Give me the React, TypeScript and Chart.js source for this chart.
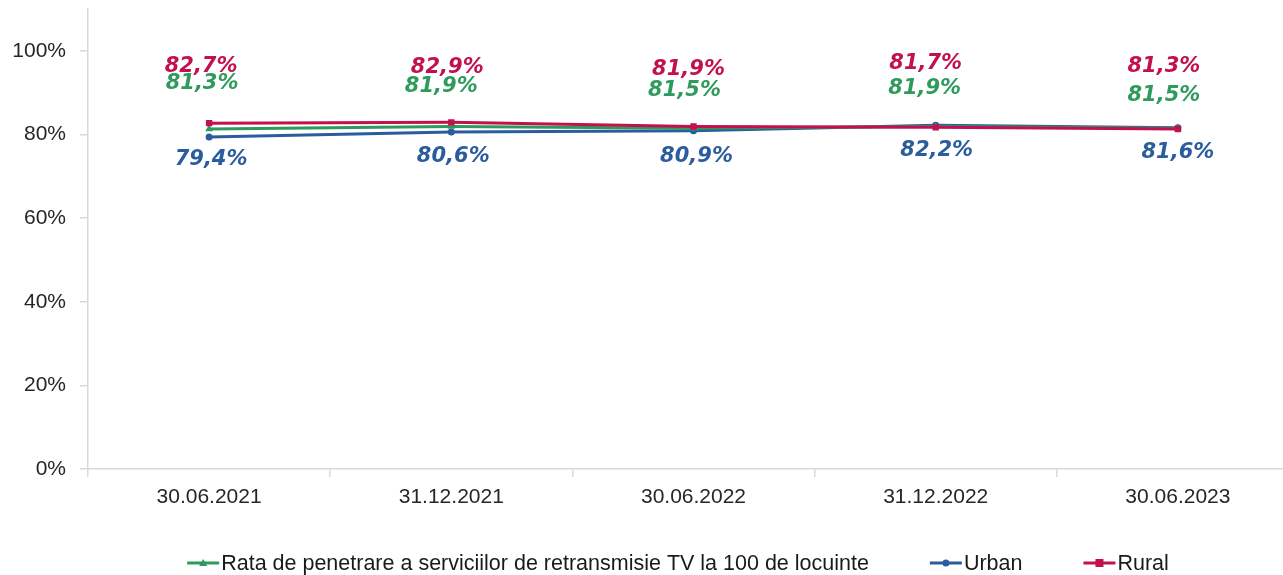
import React, { useEffect, useRef } from 'react';
import { Chart, registerables } from 'chart.js';

Chart.register(...registerables);

// ---------- data ----------
const categories = ['30.06.2021', '31.12.2021', '30.06.2022', '31.12.2022', '30.06.2023'];
const rataValues = [81.3, 81.9, 81.5, 81.9, 81.5];
const urbanValues = [79.4, 80.6, 80.9, 82.2, 81.6];
const ruralValues = [82.7, 82.9, 81.9, 81.7, 81.3];
const yTickValues = [0, 20, 40, 60, 80, 100];
const seriesNames = [
  'Rata de penetrare a serviciilor de retransmisie TV la 100 de locuinte',
  'Urban',
  'Rural',
];

// ---------- styles ----------
const GREEN = '#2E9B5C';
const BLUE = '#2B5C9E';
const RED = '#C3104E';
const AXIS_GRAY = '#D9D9D9';
const TEXT = '#262626';
const TICK_FONT = { family: '"Liberation Sans", Arial, sans-serif', size: 21 };
const LABEL_FONT = 'italic bold 21px "DejaVu Sans", Verdana, sans-serif';
const LEGEND_FONT = '21.5px "Liberation Sans", Arial, sans-serif';

// label centre offsets (px) relative to each point
const labelOffsets: number[][][] = [
  [[-7, -45], [-10, -40], [-9, -38], [-11, -38], [-14, -33]],
  [[2, 23], [2, 25], [3, 26], [1, 25], [0, 25]],
  [[-8, -57], [-4, -54.5], [-5, -57], [-10, -63.5], [-14, -62]],
];
const seriesColors = [GREEN, BLUE, RED];
const seriesMarkers = ['triangle', 'circle', 'rect'];

function drawMarker(ctx: CanvasRenderingContext2D, kind: string, x: number, y: number, color: string) {
  ctx.save();
  ctx.fillStyle = color;
  ctx.beginPath();
  if (kind === 'triangle') {
    ctx.moveTo(x, y - 4);
    ctx.lineTo(x + 4, y + 3);
    ctx.lineTo(x - 4, y + 3);
    ctx.closePath();
  } else if (kind === 'circle') {
    ctx.arc(x, y, 3.5, 0, Math.PI * 2);
  } else {
    ctx.rect(x - 4, y - 4, 8, 8);
  }
  ctx.fill();
  ctx.restore();
}

const dataLabelPlugin = {
  id: 'dataLabels',
  afterDatasetsDraw(chart: any) {
    const ctx = chart.ctx as CanvasRenderingContext2D;
    ctx.save();
    ctx.font = LABEL_FONT;
    ctx.textAlign = 'center';
    ctx.textBaseline = 'middle';
    chart.data.datasets.forEach((ds: any, di: number) => {
      const meta = chart.getDatasetMeta(di);
      meta.data.forEach((pt: any, i: number) => {
        const v = ds.data[i] as number;
        const off = labelOffsets[di][i];
        ctx.fillStyle = seriesColors[di];
        ctx.fillText(v.toFixed(1).replace('.', ',') + '%', pt.x + off[0], pt.y + off[1]);
      });
    });
    ctx.restore();
  },
};

const legendPlugin = {
  id: 'customLegend',
  afterDraw(chart: any) {
    const ctx = chart.ctx as CanvasRenderingContext2D;
    ctx.save();
    ctx.font = LEGEND_FONT;
    ctx.textBaseline = 'middle';
    ctx.textAlign = 'left';
    const lineW = 32;
    const gap = 2;
    const spacing = 61;
    const widths = seriesNames.map((n) => lineW + gap + ctx.measureText(n).width);
    const total = widths.reduce((a, b) => a + b, 0) + spacing * (widths.length - 1);
    const centre = 678;
    const y = 563;
    let x = centre - total / 2;
    seriesNames.forEach((name, i) => {
      ctx.strokeStyle = seriesColors[i];
      ctx.lineWidth = 3;
      ctx.beginPath();
      ctx.moveTo(x, y);
      ctx.lineTo(x + lineW, y);
      ctx.stroke();
      drawMarker(ctx, seriesMarkers[i], x + lineW / 2, y, seriesColors[i]);
      ctx.fillStyle = '#1a1a1a';
      ctx.fillText(name, x + lineW + gap, y + 1);
      x += widths[i] + spacing;
    });
    ctx.restore();
  },
};

export default function App() {
  const canvasRef = useRef<HTMLCanvasElement | null>(null);

  useEffect(() => {
    if (!canvasRef.current) return;
    const chart = new Chart(canvasRef.current, {
      type: 'line',
      data: {
        labels: categories,
        datasets: [
          {
            label: seriesNames[0],
            data: rataValues,
            borderColor: GREEN,
            backgroundColor: GREEN,
            borderWidth: 3,
            pointStyle: 'triangle',
            pointRadius: 4.5,
            pointBorderWidth: 0,
            tension: 0,
            order: 1,
          },
          {
            label: seriesNames[1],
            data: urbanValues,
            borderColor: BLUE,
            backgroundColor: BLUE,
            borderWidth: 3,
            pointStyle: 'circle',
            pointRadius: 3.5,
            pointBorderWidth: 0,
            tension: 0,
            order: 2,
          },
          {
            label: seriesNames[2],
            data: ruralValues,
            borderColor: RED,
            backgroundColor: RED,
            borderWidth: 3,
            pointStyle: 'rect',
            pointRadius: 4.5,
            pointBorderWidth: 0,
            tension: 0,
            order: 0,
          },
        ],
      },
      options: {
        responsive: false,
        animation: false,
        devicePixelRatio: 1,
        layout: { autoPadding: false, padding: { top: 9, left: 0, right: 0, bottom: 0 } },
        plugins: {
          legend: { display: false },
          tooltip: { enabled: false },
        },
        scales: {
          x: {
            offset: true,
            grid: {
              display: true,
              offset: true,
              drawOnChartArea: false,
              drawTicks: true,
              tickLength: 8,
              color: AXIS_GRAY,
              lineWidth: 1.5,
            },
            border: { display: true, color: AXIS_GRAY, width: 1.5 },
            ticks: { color: TEXT, font: TICK_FONT, padding: 8, maxRotation: 0, autoSkip: false },
            afterFit: (scale: any) => {
              scale.height = 106;
              scale.paddingLeft = 0;
              scale.paddingRight = 0;
            },
          },
          y: {
            min: 0,
            max: 110,
            grid: {
              display: true,
              drawOnChartArea: false,
              drawTicks: true,
              tickLength: 8,
              color: AXIS_GRAY,
              lineWidth: 1.5,
            },
            border: { display: true, color: AXIS_GRAY, width: 1.5 },
            ticks: {
              color: TEXT,
              font: TICK_FONT,
              padding: 14,
              callback: (v: any) => v + '%',
            },
            afterBuildTicks: (scale: any) => {
              scale.ticks = yTickValues.map((v) => ({ value: v }));
            },
            afterFit: (scale: any) => {
              scale.width = 88;
              scale.paddingTop = 0;
              scale.paddingBottom = 0;
            },
          },
        },
      },
      plugins: [dataLabelPlugin, legendPlugin],
    });
    return () => chart.destroy();
  }, []);

  return (
    <div
      style={{
        position: 'fixed',
        left: 0,
        top: 0,
        width: 1283,
        height: 575,
        overflow: 'hidden',
        background: '#ffffff',
      }}
    >
      <canvas ref={canvasRef} width={1299} height={575} style={{ width: 1299, height: 575, display: 'block' }} />
    </div>
  );
}
